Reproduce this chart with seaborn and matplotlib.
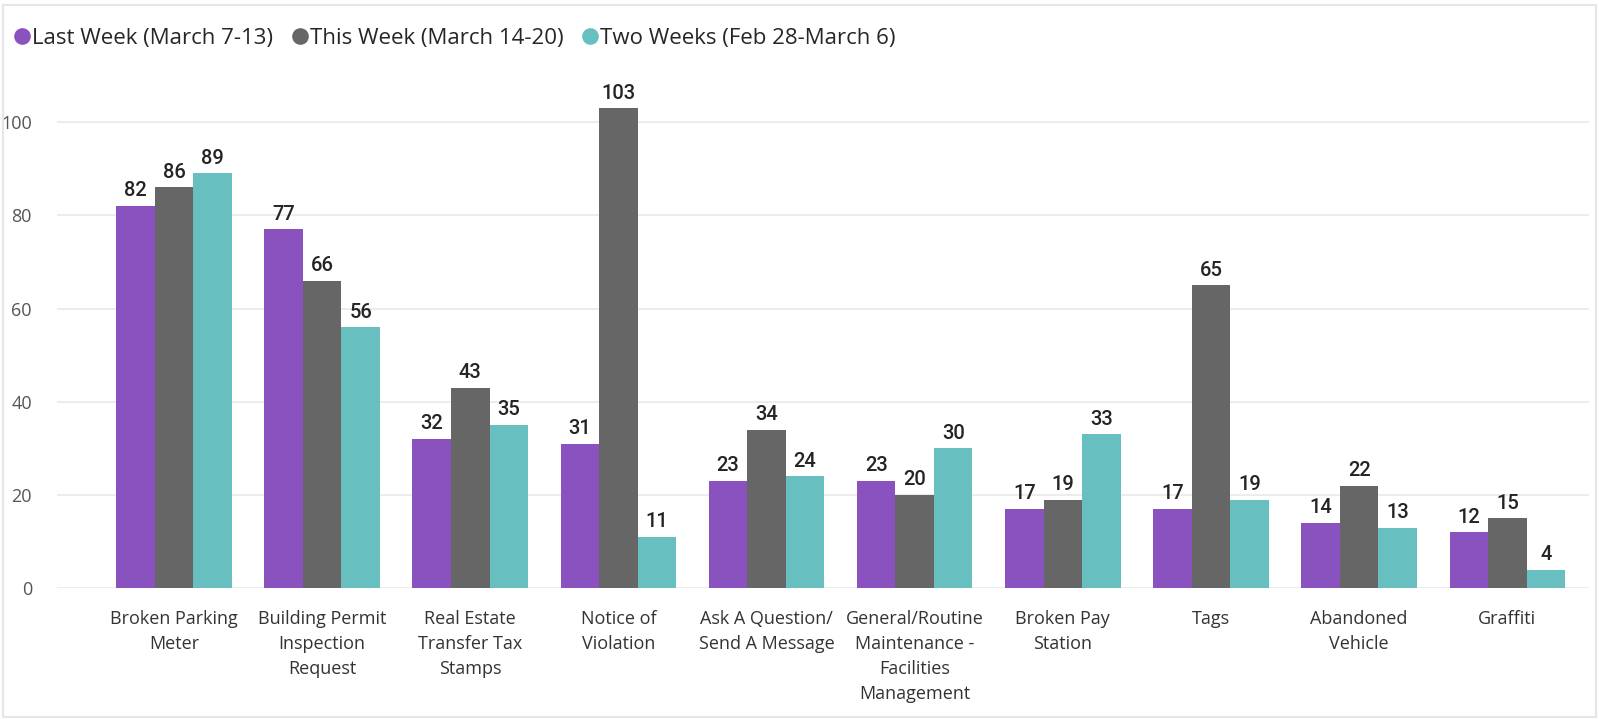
import matplotlib
matplotlib.use("Agg")
import matplotlib.pyplot as plt
import seaborn as sns
import pandas as pd
from matplotlib.lines import Line2D
from matplotlib.patches import Rectangle

# data
categories = ["Broken Parking\nMeter", "Building Permit\nInspection\nRequest",
              "Real Estate\nTransfer Tax\nStamps", "Notice of\nViolation",
              "Ask A Question/\nSend A Message",
              "General/Routine\nMaintenance -\nFacilities\nManagement",
              "Broken Pay\nStation", "Tags", "Abandoned\nVehicle", "Graffiti"]
last_week = [82, 77, 32, 31, 23, 23, 17, 17, 14, 12]
this_week = [86, 66, 43, 103, 34, 20, 19, 65, 22, 15]
two_weeks = [89, 56, 35, 11, 24, 30, 33, 19, 13, 4]
series = ["Last Week (March 7-13)", "This Week (March 14-20)", "Two Weeks (Feb 28-March 6)"]
colors = ["#8A52BE", "#666666", "#67BFBF"]

df = pd.DataFrame({
    "category": categories * 3,
    "value": last_week + this_week + two_weeks,
    "series": [series[0]] * 10 + [series[1]] * 10 + [series[2]] * 10,
})

sns.set_style("white")
plt.rcParams["font.family"] = ["Open Sans", "DejaVu Sans"]

fig = plt.figure(figsize=(15.99, 7.19), dpi=100)
ax = fig.add_axes([0.0356, 0.182, 0.958, 0.700])

sns.barplot(data=df, x="category", y="value", hue="series", palette=colors,
            width=0.78, gap=0, ax=ax, legend=False, saturation=1,
            edgecolor="none")

for cont in ax.containers:
    ax.bar_label(cont, padding=4, fontsize=14.5, color="#252423",
                 family=["Roboto", "DejaVu Sans"], fontweight="medium")

ax.set_xlim(-0.79, 9.55)
ax.set_ylim(0, 108)
ax.set_yticks([0, 20, 40, 60, 80, 100])
ax.yaxis.grid(True, color="#e9e9e9", linewidth=1.2)
ax.set_axisbelow(True)
for s in ax.spines.values():
    s.set_visible(False)
ax.set_xlabel("")
ax.set_ylabel("")
ax.tick_params(axis="y", length=0, labelsize=13, colors="#555555", pad=18)
ax.tick_params(axis="x", length=0, labelsize=13, colors="#333333", pad=16)
for lab in ax.get_xticklabels():
    lab.set_linespacing(1.5)
    lab.set_verticalalignment("top")

handles = [Line2D([], [], marker="o", linestyle="none", markersize=12,
                  markerfacecolor=c, markeredgecolor="none") for c in colors]
fig.legend(handles, series, loc="center left", bbox_to_anchor=(0.0, 0.947),
           ncol=3, frameon=False, fontsize=16, handletextpad=-0.15,
           columnspacing=0.6, handlelength=1.2, borderaxespad=0)

# light frame around the visual
fig.patches.append(Rectangle((0.002, 0.003), 0.996, 0.99, transform=fig.transFigure,
                             fill=False, edgecolor="#e6e6e6", linewidth=1.5))

fig.savefig("out.png", dpi=100)
